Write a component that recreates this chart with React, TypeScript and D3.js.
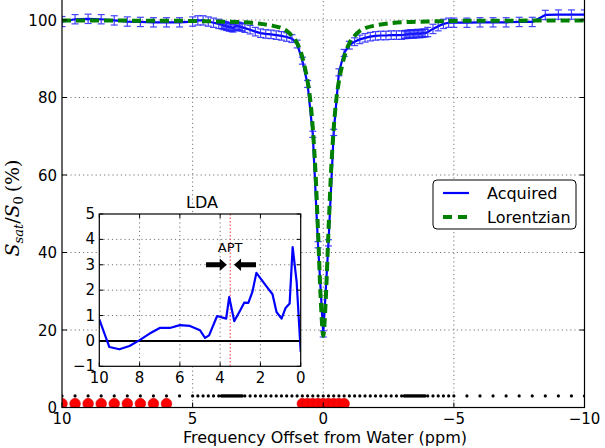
import React from 'react';
import * as d3 from 'd3';

// ---------- data ----------
const offsets = [
  10, 9.5, 9, 8.5, 8, 7.5, 7, 6.5, 6, 5.5,
  5, 4.8, 4.6, 4.4, 4.2, 4,
  3.9, 3.85, 3.8, 3.75, 3.7, 3.65, 3.6, 3.55, 3.5, 3.45, 3.4, 3.35, 3.3, 3.25, 3.2, 3.15, 3.1,
  3, 2.8, 2.6, 2.4, 2.2, 2, 1.8, 1.6, 1.4, 1.2, 1, 0.8, 0.6, 0.4, 0.2,
  0,
  -0.2, -0.4, -0.6, -0.8, -1, -1.2, -1.4, -1.6, -1.8, -2, -2.2, -2.4, -2.6, -2.8, -3,
  -3.1, -3.15, -3.2, -3.25, -3.3, -3.35, -3.4, -3.45, -3.5, -3.55, -3.6, -3.65, -3.7, -3.75, -3.8, -3.85, -3.9,
  -4, -4.2, -4.4, -4.6, -4.8, -5,
  -5.5, -6, -6.5, -7, -7.5, -8, -8.5, -9, -9.5, -10,
];

const acquired = [
  99.6, 100.2, 100.3, 100.2, 99.9, 99.6, 99.5, 99.4, 99.4, 99.4,
  99.6, 99.9, 99.9, 99.6, 99.3, 99.0,
  98.8, 98.7, 98.5, 98.6, 98.3, 98.4, 98.1, 98.3, 98.0, 97.9, 98.2, 98.4, 98.5, 98.4, 98.3, 98.2, 98.1,
  97.9, 97.5, 97.0, 96.6, 96.4, 96.3, 96.1, 95.9, 95.6, 95.2, 93.8, 89.5, 83.5, 70.5, 42.0,
  19.0,
  42.5, 71.0, 86.5, 91.5, 93.5, 94.4, 95.0, 95.4, 95.7, 95.9, 96.0, 96.0, 96.1, 96.1, 96.1,
  96.2, 96.3, 96.2, 96.4, 96.3, 96.5, 96.4, 96.3, 96.5, 96.4, 96.6, 96.5, 96.4, 96.6, 96.5, 96.7, 96.6,
  96.9, 97.7, 98.4, 99.0, 99.3, 99.3,
  99.3, 99.4, 99.4, 99.4, 99.5, 99.5, 101.3, 101.4, 101.4, 101.4,
];

const acquiredErr = [
  1.3, 1.2, 1.2, 1.2, 1.2, 1.2, 1.2, 1.2, 1.2, 1.2,
  1.2, 1.2, 1.2, 1.2, 1.2, 1.2,
  1.0, 1.0, 1.0, 1.0, 1.0, 1.0, 1.0, 1.0, 1.0, 1.0, 1.0, 1.0, 1.0, 1.0, 1.0, 1.0, 1.0,
  1.1, 1.1, 1.1, 1.1, 1.1, 1.1, 1.1, 1.1, 1.1, 1.0, 1.0, 0.9, 0.9, 0.8, 0.8,
  0.8,
  0.8, 0.8, 0.9, 0.9, 1.0, 1.0, 1.1, 1.1, 1.1, 1.1, 1.1, 1.1, 1.1, 1.1, 1.1,
  1.0, 1.0, 1.0, 1.0, 1.0, 1.0, 1.0, 1.0, 1.0, 1.0, 1.0, 1.0, 1.0, 1.0, 1.0, 1.0, 1.0,
  1.2, 1.2, 1.2, 1.2, 1.2, 1.2,
  1.2, 1.2, 1.2, 1.2, 1.2, 1.2, 1.2, 1.2, 1.2, 1.2,
];

const lorentzOffsets = [
  10, 8, 6, 5, 4, 3, 2.5, 2, 1.6, 1.4, 1.2, 1, 0.8, 0.7, 0.6, 0.5, 0.4, 0.3, 0.2, 0.1,
  0,
  -0.1, -0.2, -0.3, -0.4, -0.5, -0.6, -0.7, -0.8, -1, -1.2, -1.4, -1.6, -2, -2.5, -3, -4, -5, -6, -8, -10,
];
const lorentzValues = [
  99.9, 99.85, 99.8, 99.75, 99.6, 99.4, 99.1, 98.6, 97.9, 97.2, 95.9, 94.0, 90.4, 87.6, 84.2, 79.5, 72.0, 61.0, 45.5, 28.5,
  18.5,
  28.5, 45.5, 61.0, 72.0, 79.5, 84.2, 87.6, 90.4, 94.0, 95.9, 97.2, 97.9, 98.6, 99.1, 99.4, 99.6, 99.75, 99.8, 99.85, 99.9,
];

const selectedOffsets = [10, 9.5, 9, 8.5, 8, 7.5, 7, 6.5, 6, 0.8, 0.6, 0.4, 0.2, 0, -0.2, -0.4, -0.6, -0.8];
const allOffsetsLevel = 3;
const selectedLevel = 1;

const ldaOffsets = [10, 9.5, 9, 8.5, 8, 7.5, 7, 6.5, 6, 5.5, 5, 4.75, 4.55, 4.15, 3.7, 3.55, 3.3, 3.0, 2.8, 2.6, 2.4, 2.2, 1.7, 1.4, 1.2, 0.95, 0.75, 0.55, 0.4, 0.2, 0];
const ldaValues = [0.85, -0.24, -0.33, -0.2, 0.03, 0.29, 0.51, 0.51, 0.62, 0.59, 0.42, 0.12, 0.22, 0.98, 0.88, 1.73, 0.78, 1.21, 1.51, 1.5, 1.93, 2.68, 2.15, 1.84, 1.14, 0.88, 1.3, 1.47, 3.7, 2.32, -0.43];

const aptOffset = 3.5;
const aptArrowY = 3;
const aptArrowLeft = [4.7, 3.67];
const aptArrowRight = [2.22, 3.31];

const mainXTicks = [10, 5, 0, -5, -10];
const mainYTicks = [0, 20, 40, 60, 80, 100];
const insetXTicks = [10, 8, 6, 4, 2, 0];
const insetYTicks = [-1, 0, 1, 2, 3, 4, 5];
const legendLabels = ['Acquired', 'Lorentzian'];

const fmt = (v: number) => (v < 0 ? '\u2212' + Math.abs(v) : String(v));

export default function App() {
  const W = 605, H = 448;
  const x = d3.scaleLinear().domain([10, -10]).range([62, 584.5]);
  const y = d3.scaleLinear().domain([0, 100]).range([407.5, 20]);
  const yTop = y(106);
  const ix = d3.scaleLinear().domain([10, 0]).range([99.3, 300.7]);
  const iy = d3.scaleLinear().domain([-1, 5]).range([366.3, 214]);

  const acqPts = offsets.map((o, i) => [x(o), y(acquired[i])] as [number, number]);
  const acqLine = d3.line()(acqPts) || '';
  const lorPts = lorentzOffsets.map((o, i) => [x(o), y(lorentzValues[i])] as [number, number]).sort((a, b) => a[0] - b[0]);
  const lorLine = d3.line().curve(d3.curveMonotoneX)(lorPts) || '';
  const ldaLine = d3.line()(ldaOffsets.map((o, i) => [ix(o), iy(ldaValues[i])] as [number, number])) || '';

  const font = 'DejaVu Sans, Verdana, sans-serif';
  const gridStyle = { stroke: '#666', strokeWidth: 0.9, strokeDasharray: '1.2,3' };
  const tickLen = 5;

  const arrow = (from: number, to: number) => {
    const x0 = ix(from), x1 = ix(to);
    const dir = Math.sign(x1 - x0);
    const headLen = 7;
    const xh = x1 - dir * headLen;
    const yc = iy(aptArrowY);
    const sh = 2.6, hh = 6.2;
    return `M${x0},${yc - sh}L${xh},${yc - sh}L${xh},${yc - hh}L${x1},${yc}L${xh},${yc + hh}L${xh},${yc + sh}L${x0},${yc + sh}Z`;
  };

  return (
    <svg width={W} height={H} style={{ position: 'absolute', left: 0, top: 0, background: '#fff' }}>
      <defs>
        <clipPath id="mainClip">
          <rect x={x(10)} y={yTop} width={x(-10) - x(10)} height={y(0) - yTop} />
        </clipPath>
        <clipPath id="insetClip">
          <rect x={ix(10)} y={iy(5)} width={ix(0) - ix(10)} height={iy(-1) - iy(5)} />
        </clipPath>
      </defs>
      <rect x={0} y={0} width={W} height={H} fill="#fff" />

      {/* main grid */}
      {mainXTicks.slice(1, -1).map((t) => (
        <line key={'gx' + t} x1={x(t)} x2={x(t)} y1={yTop} y2={y(0)} style={gridStyle} />
      ))}
      {mainYTicks.slice(1).map((t) => (
        <line key={'gy' + t} x1={x(10)} x2={x(-10)} y1={y(t)} y2={y(t)} style={gridStyle} />
      ))}

      <g clipPath="url(#mainClip)">
        {/* acquired */}
        <path d={acqLine} fill="none" stroke="#0000ff" strokeWidth={2.2} strokeLinejoin="round" />
        {offsets.map((o, i) => {
          const cx = x(o);
          const y1 = y(acquired[i] + acquiredErr[i]);
          const y2 = y(acquired[i] - acquiredErr[i]);
          return (
            <g key={'eb' + i} stroke="#2222ff" strokeWidth={1.2} opacity={0.85}>
              <line x1={cx} x2={cx} y1={y1} y2={y2} />
              <line x1={cx - 3.5} x2={cx + 3.5} y1={y1} y2={y1} />
              <line x1={cx - 3.5} x2={cx + 3.5} y1={y2} y2={y2} />
            </g>
          );
        })}
        {/* lorentzian */}
        <path d={lorLine} fill="none" stroke="#008000" strokeWidth={4} strokeDasharray="9,5" />

        {/* offsets used */}
        {offsets.map((o, i) => (
          <circle key={'bd' + i} cx={x(o)} cy={y(allOffsetsLevel)} r={1.6} fill="#000" />
        ))}
        {selectedOffsets.map((o, i) => (
          <circle key={'rd' + i} cx={x(o)} cy={y(selectedLevel)} r={5.3} fill="#ff0000" stroke="#d00000" strokeWidth={0.6} />
        ))}
      </g>

      {/* main frame */}
      <rect x={x(10)} y={yTop} width={x(-10) - x(10)} height={y(0) - yTop} fill="none" stroke="#000" strokeWidth={1.2} />
      {mainYTicks.map((t) => (
        <g key={'yt' + t}>
          <line x1={x(10)} x2={x(10) + tickLen} y1={y(t)} y2={y(t)} stroke="#000" />
          <line x1={x(-10)} x2={x(-10) - tickLen} y1={y(t)} y2={y(t)} stroke="#000" />
          <text x={57} y={y(t) + 5.5} textAnchor="end" fontFamily={font} fontSize={15}>{fmt(t)}</text>
        </g>
      ))}
      {mainXTicks.map((t) => (
        <g key={'xt' + t}>
          <line x1={x(t)} x2={x(t)} y1={y(0)} y2={y(0) - tickLen} stroke="#000" />
          <text x={x(t)} y={423.5} textAnchor="middle" fontFamily={font} fontSize={15}>{fmt(t)}</text>
        </g>
      ))}
      <text x={325} y={443} textAnchor="middle" fontFamily={font} fontSize={16}>Frequency Offset from Water (ppm)</text>
      <text transform="translate(19,208) rotate(-90)" textAnchor="middle" fontFamily="DejaVu Serif, serif" fontSize={19}>
        <tspan fontStyle="italic">S</tspan>
        <tspan fontStyle="italic" fontSize={13} dy={4}>sat</tspan>
        <tspan dy={-4}>/</tspan>
        <tspan fontStyle="italic">S</tspan>
        <tspan fontSize={13} dy={4}>0</tspan>
        <tspan dy={-4}>{'\u2009(%)'}</tspan>
      </text>

      {/* legend */}
      <rect x={433} y={180} width={143} height={49} rx={4} fill="#fff" stroke="#000" strokeWidth={1} />
      <line x1={443} x2={469} y1={193} y2={193} stroke="#0000ff" strokeWidth={2.2} />
      <line x1={443} x2={469} y1={217} y2={217} stroke="#008000" strokeWidth={4} strokeDasharray="9,6" />
      <text x={487} y={198.5} fontFamily={font} fontSize={16}>{legendLabels[0]}</text>
      <text x={487} y={222.5} fontFamily={font} fontSize={16}>{legendLabels[1]}</text>

      {/* inset */}
      <rect x={ix(10)} y={iy(5)} width={ix(0) - ix(10)} height={iy(-1) - iy(5)} fill="#fff" />
      {insetXTicks.slice(1, -1).map((t) => (
        <line key={'igx' + t} x1={ix(t)} x2={ix(t)} y1={iy(5)} y2={iy(-1)} style={gridStyle} />
      ))}
      {insetYTicks.slice(1, -1).map((t) => (
        <line key={'igy' + t} x1={ix(10)} x2={ix(0)} y1={iy(t)} y2={iy(t)} style={gridStyle} />
      ))}
      <g clipPath="url(#insetClip)">
        <line x1={ix(aptOffset)} x2={ix(aptOffset)} y1={iy(5)} y2={iy(-1)} stroke="#ff3030" strokeWidth={1} strokeDasharray="1.5,2" />
        <line x1={ix(10)} x2={ix(0)} y1={iy(0)} y2={iy(0)} stroke="#000" strokeWidth={2} />
        <path d={ldaLine} fill="none" stroke="#0000ff" strokeWidth={2.2} strokeLinejoin="round" />
      </g>
      <path d={arrow(aptArrowLeft[0], aptArrowLeft[1])} fill="#000" />
      <path d={arrow(aptArrowRight[0], aptArrowRight[1])} fill="#000" />
      <text x={ix(aptOffset)} y={252} textAnchor="middle" fontFamily={font} fontSize={13}>APT</text>
      <rect x={ix(10)} y={iy(5)} width={ix(0) - ix(10)} height={iy(-1) - iy(5)} fill="none" stroke="#000" strokeWidth={1.2} />
      {insetYTicks.map((t) => (
        <g key={'iyt' + t}>
          <line x1={ix(10)} x2={ix(10) + 4} y1={iy(t)} y2={iy(t)} stroke="#000" />
          <line x1={ix(0)} x2={ix(0) - 4} y1={iy(t)} y2={iy(t)} stroke="#000" />
          <text x={95} y={iy(t) + 5} textAnchor="end" fontFamily={font} fontSize={15}>{fmt(t)}</text>
        </g>
      ))}
      {insetXTicks.map((t) => (
        <g key={'ixt' + t}>
          <line x1={ix(t)} x2={ix(t)} y1={iy(-1)} y2={iy(-1) - 4} stroke="#000" />
          <line x1={ix(t)} x2={ix(t)} y1={iy(5)} y2={iy(5) + 4} stroke="#000" />
          <text x={ix(t)} y={383} textAnchor="middle" fontFamily={font} fontSize={15}>{fmt(t)}</text>
        </g>
      ))}
      <text x={202} y={208} textAnchor="middle" fontFamily={font} fontSize={16}>LDA</text>
    </svg>
  );
}
